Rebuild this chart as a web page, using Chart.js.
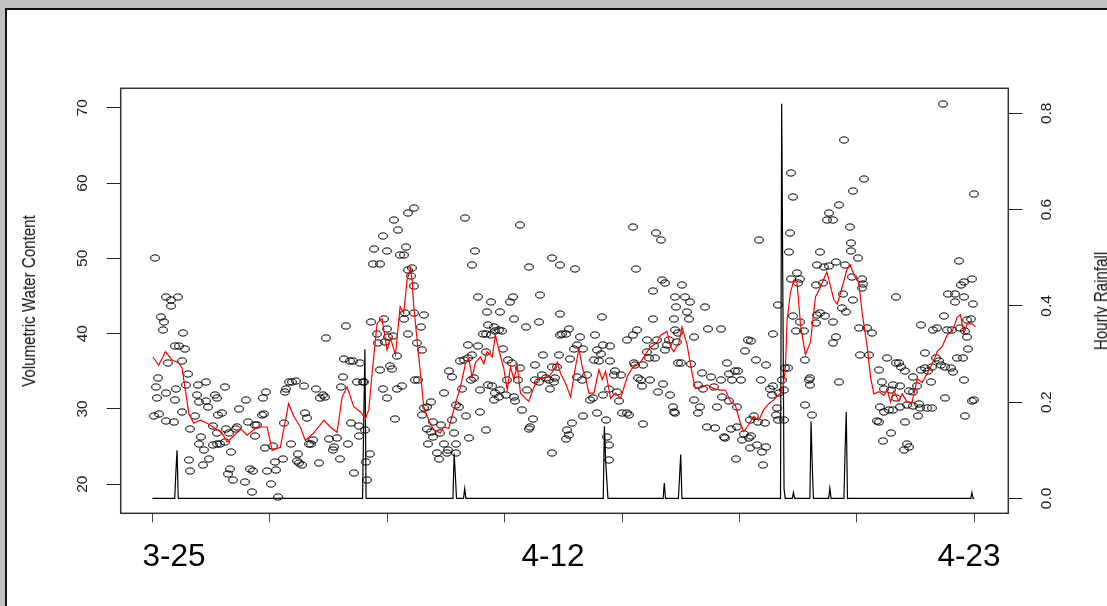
<!DOCTYPE html>
<html><head><meta charset="utf-8">
<script src="https://cdn.jsdelivr.net/npm/chart.js@4.4.1/dist/chart.umd.min.js"></script>
<style>
html,body{margin:0;padding:0;width:1107px;height:606px;overflow:hidden;background:#c0c0c0;}
#panel{position:absolute;left:5px;top:8px;width:1120px;height:620px;background:#fff;border-left:2px solid #111;border-top:2px solid #111;}
#c{position:absolute;left:0;top:0;}
.date{position:absolute;font-family:"Liberation Sans",Arial,sans-serif;font-size:31.5px;line-height:30px;color:#000;transform:translateX(-50%);white-space:nowrap;}
.vtitle{position:absolute;font-family:"Liberation Sans",Arial,sans-serif;font-size:18px;line-height:20px;color:#111;white-space:nowrap;transform:translate(-50%,-50%) rotate(-90deg) scaleX(0.84);}
</style></head>
<body>
<div id="panel"></div>
<canvas id="c" width="1107" height="606"></canvas>
<div class="date" style="left:174px;top:540px">3-25</div>
<div class="date" style="left:553px;top:540px">4-12</div>
<div class="date" style="left:969px;top:540px">4-23</div>
<div class="vtitle" style="left:28.5px;top:301px">Volumetric Water Content</div>
<div class="vtitle" style="left:1100.5px;top:301px">Hourly Rainfall</div>
<script>
// ---- data (hour index, volumetric water content) ----
const soilPoints = [
[2,50.0],[188,49.3],[194,49.3],[189,51.3],[196,53.0],[200,51.0],[206,55.1],[209,53.7],[211,50.4],
[12,44.9],[16,44.4],[22,44.9],[16,43.7],[7,42.2],[10,41.5],[9,40.5],[26,40.1],[19,38.4],[23,38.3],[28,38.0],[25,36.4],[13,36.1],[5,34.1],[3,32.9],[4,31.4],[1,29.0],[6,29.3],[12,28.4],[18,28.2],[20,32.7],[12,32.1],[19,31.2],[25,29.6],[30,34.6],[29,33.2],[32,27.3],[36,29.0],[39,33.2],[46,33.6],[38,31.8],[40,30.9],[46,31.1],[47,30.3],[41,26.3],[40,25.3],[44,24.6],[31,23.2],[32,21.7],[43,22.5],[48,23.4],[52,27.7],[55,26.8],[52,25.2],[55,25.3],[58,25.4],[62,25.6],[53,31.9],[55,31.4],[56,29.2],[59,29.4],[62,32.9],[63,27.4],[65,26.8],[67,24.3],[66,22.0],[64,21.3],[69,20.6],[72,27.6],[74,30.0],[71,27.3],[79,20.3],[80,31.2],[81,28.2],[83,22.0],[85,19.0],[86,21.7],[87,27.9],[87,26.4],[89,27.8],[94,31.4],[93,29.2],[95,29.3],[96,24.8],[97,32.3],[98,21.7],[101,20.0],[103,25.1],[104,23.0],[107,18.3],[105,21.9],[111,23.3],[113,32.3],[114,32.7],[112,28.1],[116,33.6],[119,33.6],[122,33.7],[118,25.4],[124,24.0],[123,23.1],[125,22.8],[127,22.6],[129,33.0],[130,29.5],[132,28.8],[133,25.3],[135,25.3],[137,25.9],[139,32.7],[142,22.8],[143,31.4],[145,31.8],[147,31.6],[148,39.4],[150,26.0],[154,24.5],[155,24.9],[157,26.2],[160,23.4],[161,32.9],[162,34.3],[165,41.0],[163,36.6],[168,36.4],[171,36.3],[177,36.1],[167,25.4],[169,28.1],[172,21.5],[176,27.7],[176,26.4],[174,33.6],[179,33.6],[180,33.6],[181,27.2],[182,22.9],[183,20.5],[185,24.0],[186,41.6],[191,40.0],[192,38.7],[194,35.2],[197,41.9],[198,38.9],[200,40.6],[201,39.6],[205,39.7],[202,35.7],[204,35.3],[208,37.0],[208,32.7],[207,28.6],[196,32.7],[200,31.4],
[213,33.0],[214,42.0],[215,42.7],[223,42.7],[231,42.5],[229,40.9],[218,40.0],[225,38.7],[230,37.8],[224,33.9],[226,33.8],[231,30.1],[234,30.3],[230,29.2],[237,30.9],[234,27.4],[239,28.2],[246,27.9],[245,26.8],[237,27.0],[239,26.3],[235,25.3],[242,24.2],[244,23.3],[248,25.3],[251,24.2],[259,24.2],[252,24.6],[259,25.4],[257,26.8],[255,28.5],[248,32.1],[253,35.1],[255,34.3],[259,30.5],[261,30.3],[264,32.7],[267,29.1],[270,26.2],[262,36.4],[265,36.5],[269,36.8],[272,37.2],[277,38.3],[269,38.5],[271,33.8],[274,34.1],[279,32.5],[279,29.6],[284,27.2],
[277,44.9],[288,44.2],[285,42.9],[296,42.9],[307,44.9],[305,44.2],[308,42.0],[298,40.3],[295,40.5],[291,40.9],[292,40.3],[284,40.0],[282,40.0],[286,41.1],[288,39.8],[284,37.6],[289,33.0],[286,33.2],[292,32.1],[295,31.6],[291,31.2],[296,32.5],[299,38.0],[301,31.8],[302,33.8],[303,36.5],[306,36.1],[308,31.6],[309,31.0],[311,33.8],[313,35.5],[315,29.9],[319,32.5],[321,27.4],[322,27.6],[324,28.7],[318,40.9],[329,41.6],[330,45.1],[326,35.8],[326,33.8],[329,33.6],[332,34.5],[333,37.2],[335,34.1],[338,33.8],[339,32.7],[340,35.6],[342,33.6],[343,34.1],[345,35.6],[346,37.2],[340,24.1],[347,42.6],[349,40.0],[347,39.8],[352,39.9],[355,40.6],[356,36.6],[359,38.0],[353,27.2],[352,26.0],[355,26.5],[357,28.1],[362,38.5],[364,39.6],[362,34.3],[366,33.8],[367,38.0],[367,29.0],[370,34.5],[373,31.2],[375,31.4],[376,36.5],[377,39.8],[379,37.8],[379,29.4],[380,36.3],[382,37.3],[383,42.2],[384,38.5],[384,31.8],[386,28.5],[387,26.3],[389,25.2],[390,38.3],[389,23.2],[389,32.7],[390,36.3],[393,34.5],[394,35.0],[396,32.3],[397,31.0],[399,34.5],[400,29.4],[404,39.2],[404,29.4],[406,29.2],[409,39.8],[410,36.1],[411,35.8],[413,40.5],[414,34.1],[416,33.8],[417,33.0],[418,28.0],[418,35.8],[421,39.2],[421,37.6],[423,36.7],[424,33.8],[426,41.9],[426,45.6],[427,38.3],[428,36.7],[430,39.2],[431,32.3],[435,33.3],[437,37.8],[438,38.5],[440,39.2],[441,31.8],[443,30.3],[444,29.6],[445,44.9],[446,43.6],[444,41.9],[445,40.5],[447,38.9],[448,40.1],[448,36.1],[445,29.4],
[223,56.7],[218,56.0],[216,51.5],[214,50.4],[266,55.3],[275,51.0],[272,49.1],[313,54.4],[321,48.9],[340,50.0],[347,49.1],[360,48.6],[409,54.1],[412,48.6],[429,53.3],[433,52.4],[434,47.1],[437,46.7],[221,48.7],[218,48.5],[220,47.6],[223,46.3],
[451,46.5],[454,44.9],[458,44.2],[457,42.0],[455,42.9],[461,39.5],[473,40.6],[484,40.6],[471,43.5],[450,36.1],[459,36.0],[468,34.8],[476,34.3],[484,33.8],[478,32.9],[491,34.7],[496,35.0],[499,35.1],[494,33.8],[501,33.8],[489,36.1],[465,33.2],[469,32.7],[461,31.2],[466,30.3],[465,29.4],[481,30.3],[485,31.6],[491,31.0],[498,30.3],[472,27.6],[479,27.5],[487,26.3],[488,26.1],[493,27.4],[498,27.6],[502,25.9],[504,26.7],[508,26.1],[510,26.4],[509,24.8],[515,25.2],[519,24.3],[523,24.9],[497,23.4],[520,22.5],[522,28.1],[516,28.3],[512,29.0],[509,28.5],[526,32.7],[529,33.0],[532,30.1],[533,28.5],[531,29.2],[528,31.8],[534,32.1],[505,37.7],[507,39.1],[510,39.0],[514,36.5],[523,35.9],[518,33.8],[529,40.0],[533,43.8],[539,35.4],[541,35.5],[536,33.8],[538,32.5],[538,28.5],
[546,42.3],[552,41.6],[555,40.3],[548,40.3],[556,36.5],[559,33.8],[560,34.1],[560,33.2],[556,30.5],[562,29.2],[566,42.5],[565,41.4],[569,42.7],[573,42.3],[580,41.6],[582,39.5],[580,38.7],[585,33.6],[587,43.4],[591,42.9],[597,44.5],[602,40.7],[609,40.7],[613,40.1],[603,37.2],[610,37.2],[619,35.2],[621,33.6],[626,36.7],[623,32.7],[629,32.5],[631,33.2],[633,36.1],[636,36.1],[637,33.0],[638,35.6],[641,35.0],[644,32.4],[648,34.3],[651,33.0],[653,30.7],[655,41.1],[658,37.4],[663,33.6],[667,36.7],[670,36.3],[672,35.8],[675,35.6],[680,35.4],[682,34.9],[681,40.5],[677,40.5],[665,40.5],[668,40.7],[674,42.3],[678,45.3],[684,45.3],[691,44.9],[684,44.2],[699,43.9],[697,42.0],[695,38.0],[685,36.7],[690,36.7],[691,33.8],[675,31.4],[692,29.1],[700,31.2],[698,31.0],[620,30.3],[623,29.6],[627,29.9],[631,29.9],[637,30.3],[643,30.5],[648,30.4],[654,30.1],[660,30.1],[664,30.1],[652,29.0],[641,28.3],[617,28.4],[619,28.3],[629,26.8],[622,25.8],[643,25.4],[644,24.9],[640,24.5],[633,31.4],[648,32.3],[655,35.2],[658,35.4],[661,35.0],[664,35.6],[688,40.7],[692,40.3],[694,41.8],[694,39.6],
[673,70.45],[589,65.7],[544,61.3],[606,60.5],[597,58.9],[546,58.1],[700,58.5],[585,57.1],[576,56.0],[575,55.1],[580,55.1],[594,54.2],[543,53.3],[595,52.1],[595,51.0],[542,50.8],[569,50.9],[601,50.0],[517,52.4],[566,49.1],[572,48.9],[576,49.0],[582,49.5],[590,49.1],[687,49.6],[549,48.1],[544,47.3],[552,47.3],[550,46.7],[596,47.5],[604,47.3],[605,46.6],[604,46.0],[698,47.3],[691,46.9],[689,46.5],[565,46.4],[571,46.7],[588,45.3],[633,44.9]
];

// moving average (red line): hours and values
const avgHour = [0.5,5.4,11,16.7,22.4,25.3,28.1,31,35.2,40.9,46.6,53.7,59.3,63.6,69.3,75,80.6,89.1,97.7,102,109,116,120.5,126,130.3,137.4,146,151.6,157.3,161.6,165.8,171.5,177.2,181.4,184.3,187.1,191.4,195.6,199.9,202.8,207,211,214,216.9,219.7,221.2,222.6,226.9,231.1,235.4,239.6,245.3,248.2,252.4,258.1,262.4,266.6,269.5,272.3,275.2,279.4,282.3,285.1,289.4,292.2,295.1,299.3,302.2,305,307.9,310.7,313.5,317.8,320.6,324.9,329.2,333.4,337.7,342,344.8,347.6,351.9,356.2,360.4,363.3,366.1,369,371.8,376.1,380.3,383.2,386,390.3,394.5,398.8,404.5,410.2,415.8,421.5,424.4,430.1,432.9,438.3,441.4,444,448.3,451.1,455.4,459.7,462.4,468.1,472.4,478.1,483.8,488,492.3,496.5,500.8,503.6,507.9,512.2,516.4,520.7,525,529.2,534.9,537.2,539.2,540.6,543.4,546.3,549.1,552,556.2,560.5,564.8,569,571.9,574.5,578.8,580.4,583.3,586.1,589,591.5,594.4,597.5,601.7,604.6,608.8,611.7,614.5,618.8,623,625.9,628.7,631.5,635.8,638.6,642.9,647.1,651.4,655.6,659.9,664.2,668.4,672.7,676.9,681.2,685.5,688.3,691.1,694,698.2,701];
const avgValue = [36.9,35.8,37.6,36.5,36.1,35.4,32.5,29.4,28.1,28.5,28.1,27.4,26.8,25.6,26.4,27.4,26.5,27.6,27.6,24.5,24.9,30.7,29.0,27.6,25.8,26.8,28.5,27.6,26.9,31.6,32.9,30.3,29.6,28.7,29.9,34.7,41.4,42.0,37.8,39.4,37.2,43.6,42.7,47.1,48.7,47.1,43.6,36.9,30.3,28.5,27.2,26.8,27.6,27.4,30.7,32.9,36.0,36.7,34.2,36.2,36.9,36.0,37.6,36.9,39.8,37.8,35.4,32.5,35.6,33.9,35.8,32.1,31.4,31.0,32.9,34.1,34.1,34.3,35.2,36.2,34.7,33.4,31.6,35.6,38.0,35.6,34.1,32.1,32.1,35.2,33.9,35.0,31.4,32.1,31.4,34.3,35.8,36.2,37.6,38.2,38.9,39.8,40.3,38.2,37.6,38.7,40.9,38.5,34.7,32.7,32.9,33.2,32.7,32.5,32.5,31.0,30.5,28.1,27.0,27.9,29.0,28.5,29.9,30.7,31.2,32.1,32.9,35.6,41.8,45.4,47.1,46.7,41.2,37.2,38.9,44.9,46.2,47.3,48.2,45.5,44.5,43.9,45.4,47.0,48.5,49.1,47.8,46.7,42.7,38.3,34.2,32.0,32.3,31.8,32.5,30.9,32.4,31.0,32.0,30.9,30.9,34.0,33.5,34.7,36.0,37.6,38.3,39.8,40.3,42.2,42.5,40.0,41.3,41.3,40.9];

// hourly rainfall (right axis)
const rainHour  = [0,19,20,21,22,179,180,181,182,256,257,258,259,265,266,267,384,385,386,387,388,435,436,437,448,449,450,451,535,536,537,538,539,545,546,547,560,561,562,563,576,577,578,589,590,591,592,697,698,699,700];
const rainValue = [0,0,0.055,0.10,0,0,0.16,0.31,0,0,0.093,0.05,0,0,0.02,0,0,0.15,0.08,0.04,0,0,0.032,0,0,0.045,0.091,0,0,0.82,0.42,0.02,0,0,0.012,0,0,0.16,0.07,0,0,0.021,0,0,0.10,0.18,0,0,0.012,0,0];

// tick values
const xTicks = [0,100,200,300,400,500,600,700];
const yTicks = [20,30,40,50,60,70];
const rainTicks = [0,0.2,0.4,0.6,0.8];

// ---- styles ----
const ellipse = document.createElement('canvas');
ellipse.width = 12; ellipse.height = 10;
const ec = ellipse.getContext('2d');
ec.strokeStyle = '#000'; ec.lineWidth = 1.0;
ec.beginPath(); ec.ellipse(6, 5, 4.3, 3.1, 0, 0, Math.PI * 2); ec.stroke();

const tickFont = "'Liberation Sans',Arial,sans-serif";

const crispPoints = {
  id: 'crisp',
  beforeDatasetsDraw(chart) { chart.ctx.imageSmoothingEnabled = false; },
  afterDatasetsDraw(chart) {
    const {ctx, chartArea: a} = chart;
    ctx.imageSmoothingEnabled = true;
    ctx.save();
    ctx.strokeStyle = '#333'; ctx.lineWidth = 1.5;
    ctx.strokeRect(a.left, a.top, a.right - a.left, a.bottom - a.top);
    ctx.restore();
  }
};

new Chart(document.getElementById('c'), {
  data: {
    datasets: [
      {
        type: 'line', label: 'rain', yAxisID: 'y1', order: 2,
        data: rainHour.map((h, i) => ({x: h, y: rainValue[i]})),
        borderColor: '#000', borderWidth: 1.2, pointRadius: 0, tension: 0, fill: false
      },
      {
        type: 'scatter', label: 'vwc', yAxisID: 'y', order: 1,
        data: soilPoints.map(p => ({x: p[0], y: p[1]})),
        pointStyle: ellipse, pointRadius: 4, showLine: false
      },
      {
        type: 'line', label: 'avg', yAxisID: 'y', order: 0,
        data: avgHour.map((h, i) => ({x: h, y: avgValue[i]})),
        borderColor: '#ff0000', borderWidth: 1.2, pointRadius: 0, tension: 0, fill: false
      }
    ]
  },
  options: {
    responsive: false, animation: false, devicePixelRatio: 1,
    layout: {padding: {top: 88.3, left: 0, right: 0, bottom: 0}},
    plugins: {legend: {display: false}, tooltip: {enabled: false}},
    scales: {
      x: {
        type: 'linear', position: 'bottom', min: -27, max: 729,
        afterBuildTicks: s => { s.ticks = xTicks.map(v => ({value: v})); },
        afterFit: s => { s.height = 92.7; },
        ticks: {display: false},
        grid: {display: true, drawOnChartArea: false, drawTicks: true, tickLength: 9, color: '#444', tickColor: '#444', lineWidth: 1},
        border: {display: false}
      },
      y: {
        type: 'linear', position: 'left', min: 16.14, max: 72.58,
        afterBuildTicks: s => { s.ticks = yTicks.map(v => ({value: v})); },
        afterFit: s => { s.width = 120.7; },
        ticks: {minRotation: 90, maxRotation: 90, crossAlign: 'center', padding: 15, color: '#222',
                font: {family: tickFont, size: 15.5}, callback: v => String(v)},
        grid: {display: true, drawOnChartArea: false, drawTicks: true, tickLength: 14, color: '#222', tickColor: '#222', lineWidth: 1},
        border: {display: false}
      },
      y1: {
        type: 'linear', position: 'right', min: -0.031, max: 0.852,
        afterBuildTicks: s => { s.ticks = rainTicks.map(v => ({value: v})); },
        afterFit: s => { s.width = 98.7; },
        ticks: {minRotation: 90, maxRotation: 90, crossAlign: 'center', padding: 14, color: '#222',
                font: {family: tickFont, size: 15.5}, callback: v => v.toFixed(1)},
        grid: {display: true, drawOnChartArea: false, drawTicks: true, tickLength: 14, color: '#222', tickColor: '#222', lineWidth: 1},
        border: {display: false}
      }
    }
  },
  plugins: [crispPoints]
});
</script>
</body></html>
